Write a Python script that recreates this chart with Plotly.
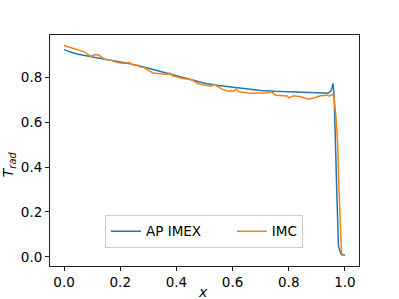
import plotly.graph_objects as go

# AP IMEX (blue)
imex_x = [0.0, 0.02, 0.05, 0.1, 0.15, 0.2, 0.25, 0.3, 0.35, 0.4, 0.45, 0.5, 0.55, 0.6,
          0.65, 0.7, 0.75, 0.8, 0.85, 0.9, 0.94, 0.95, 0.958, 0.962, 0.971, 0.977, 0.986, 1.0]
imex_y = [0.923, 0.913, 0.902, 0.889, 0.879, 0.868, 0.856, 0.840, 0.823, 0.806, 0.789, 0.773,
          0.763, 0.755, 0.747, 0.741, 0.737, 0.734, 0.732, 0.731, 0.729, 0.738, 0.772, 0.698,
          0.284, 0.046, 0.012, 0.008]

# IMC (orange)
imc_x = [0.0, 0.037, 0.072, 0.09, 0.093, 0.114, 0.125, 0.143, 0.167, 0.19, 0.214, 0.232, 0.244,
         0.262, 0.268, 0.286, 0.298, 0.316, 0.345, 0.369, 0.375, 0.387, 0.422, 0.452, 0.476,
         0.4875, 0.523, 0.535, 0.559, 0.582, 0.606, 0.612, 0.623, 0.665, 0.725, 0.737, 0.754,
         0.795, 0.80, 0.818, 0.842, 0.871, 0.895, 0.913, 0.937, 0.944, 0.955, 0.961, 0.968,
         0.974, 0.977, 0.982, 0.986, 0.988, 1.0]
imc_y = [0.941, 0.927, 0.913, 0.898, 0.893, 0.901, 0.898, 0.881, 0.876, 0.865, 0.861, 0.865,
         0.855, 0.853, 0.846, 0.843, 0.831, 0.819, 0.816, 0.812, 0.819, 0.806, 0.794, 0.79,
         0.772, 0.767, 0.76, 0.767, 0.749, 0.738, 0.739, 0.747, 0.735, 0.728, 0.731, 0.735,
         0.72, 0.716, 0.708, 0.717, 0.713, 0.702, 0.71, 0.717, 0.72, 0.716, 0.724, 0.713,
         0.624, 0.505, 0.357, 0.209, 0.046, 0.009, 0.006]

x_ticks = [0.0, 0.2, 0.4, 0.6, 0.8, 1.0]
y_ticks = [0.0, 0.2, 0.4, 0.6, 0.8]

FONT = "DejaVu Sans"
NBSP = "\u00a0"

fig = go.Figure()
fig.add_trace(go.Scatter(x=imex_x, y=imex_y, mode="lines", name="AP IMEX" + NBSP * 6,
                         line=dict(color="#1f77b4", width=1.5)))
fig.add_trace(go.Scatter(x=imc_x, y=imc_y, mode="lines", name="IMC",
                         line=dict(color="#ff7f0e", width=1.5)))

axis_common = dict(showline=True, mirror=True, linecolor="#222222", linewidth=1,
                   ticks="outside", ticklen=4, tickwidth=1, tickcolor="#222222",
                   showgrid=False, zeroline=False, automargin=False,
                   tickfont=dict(family=FONT, size=13.5, color="black"))

fig.update_xaxes(range=[-0.05, 1.05], tickvals=x_ticks,
                 ticktext=[f"{v:.1f}" for v in x_ticks], **axis_common)
fig.update_yaxes(range=[-0.041, 0.988], tickvals=y_ticks,
                 ticktext=[f"{v:.1f}" for v in y_ticks], **axis_common)

fig.add_annotation(text="<i>x</i>", xref="paper", yref="paper", x=0.495, y=-0.112,
                   showarrow=False, xanchor="center", yanchor="middle",
                   font=dict(family=FONT, size=14, color="black"))
fig.add_annotation(text="<i>T</i><sub><i>rad</i></sub>", xref="paper", yref="paper",
                   x=-0.13, y=0.44, textangle=-90, showarrow=False,
                   xanchor="center", yanchor="middle",
                   font=dict(family=FONT, size=14, color="black"))

fig.update_layout(
    width=399, height=299,
    margin=dict(l=50, r=40, t=35, b=33),
    paper_bgcolor="white", plot_bgcolor="white",
    font=dict(family=FONT, size=13.5, color="black"),
    legend=dict(orientation="h", x=0.178, y=0.221, xanchor="left", yanchor="top",
                bordercolor="#cccccc", borderwidth=1, bgcolor="rgba(255,255,255,0.8)",
                font=dict(family=FONT, size=13.5, color="black")),
)

fig.write_html("out.html", config={"displayModeBar": False},
               post_script="document.body.style.margin='0px';")
